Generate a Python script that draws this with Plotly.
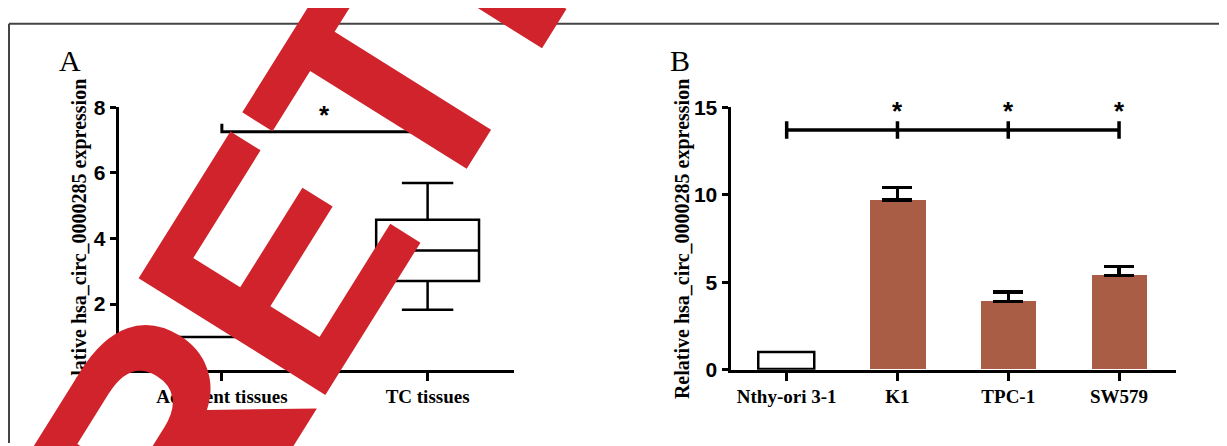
import plotly.graph_objects as go

# ---------------- data ----------------
groups_a = ["Adjacent tissues", "TC tissues"]
a_lower = [1.0, 1.83]
a_q1 = [1.0, 2.70]
a_median = [1.0, 3.63]
a_q3 = [1.0, 4.57]
a_upper = [1.0, 5.69]

cells_b = ["Nthy-ori 3-1", "K1", "TPC-1", "SW579"]
b_mean = [1.0, 9.71, 3.89, 5.39]
b_err = [0.0, 0.70, 0.56, 0.52]

a_yticks = [0, 2, 4, 6, 8]
b_yticks = [0, 5, 10, 15]

W, H = 1227, 446
OFF = 8  # page body margin compensation
BROWN = "#A95D45"
RED = "#D0232B"
TITLE = "Relative hsa_circ_0000285 expression"


def px(x):
    return (x - OFF) / W


def py(y):
    return 1 - (y - OFF) / H


fig = go.Figure()

# ---------------- panel A: box plot ----------------
for i, g in enumerate(groups_a):
    fig.add_trace(go.Box(
        x=[i], q1=[a_q1[i]], median=[a_median[i]], q3=[a_q3[i]],
        lowerfence=[a_lower[i]], upperfence=[a_upper[i]],
        width=0.5, whiskerwidth=0.5, boxpoints=False,
        fillcolor="white", line=dict(color="black", width=2.5),
        xaxis="x", yaxis="y", showlegend=False, hoverinfo="skip"))

# significance bracket A
fig.add_trace(go.Scatter(
    x=[0, 0, 1, 1], y=[7.5, 7.25, 7.25, 7.5], mode="lines",
    line=dict(color="black", width=3), xaxis="x", yaxis="y",
    showlegend=False, hoverinfo="skip"))

# ---------------- panel B: bar chart ----------------
fig.add_trace(go.Bar(
    x=[0], y=[b_mean[0]], width=0.5,
    marker=dict(color="white", line=dict(color="black", width=2.5)),
    xaxis="x2", yaxis="y2", showlegend=False, hoverinfo="skip"))
fig.add_trace(go.Bar(
    x=list(range(1, len(cells_b))), y=b_mean[1:], width=0.5,
    marker=dict(color=BROWN, line=dict(width=0)),
    error_y=dict(type="data", array=b_err[1:], arrayminus=[0] * (len(cells_b) - 1),
                 symmetric=False, color="black", thickness=3.5, width=15),
    xaxis="x2", yaxis="y2", showlegend=False, hoverinfo="skip"))

# significance bracket B
bx, by = [0, 3, None], [13.7, 13.7, None]
for i in range(len(cells_b)):
    bx += [i, i, None]
    by += [13.2, 14.2, None]
fig.add_trace(go.Scatter(
    x=bx, y=by, mode="lines", line=dict(color="black", width=3.5),
    xaxis="x2", yaxis="y2", showlegend=False, hoverinfo="skip", connectgaps=False))

# ---------------- axes ----------------
ydom = [py(376.7), py(100)]
common = dict(showline=True, linecolor="black", linewidth=3, ticks="outside",
              tickcolor="black", tickwidth=3, showgrid=False, zeroline=False)
xfont = dict(family="Liberation Serif", size=19, color="black", weight="bold")
yfont = dict(family="Liberation Sans", size=21, color="black", weight="bold")

fig.update_layout(
    width=W, height=H, margin=dict(l=0, r=0, t=0, b=0),
    paper_bgcolor="white", plot_bgcolor="white", showlegend=False,
    bargap=0,
    xaxis=dict(domain=[px(118.6), px(514)], range=[-0.502, 1.42], anchor="y",
               tickvals=[0, 1], ticktext=groups_a, ticklen=8, tickfont=xfont, **common),
    yaxis=dict(domain=ydom, range=[0, 8], anchor="x", tickvals=a_yticks,
               ticklen=6, tickfont=yfont, **common),
    xaxis2=dict(domain=[px(730.5), px(1176)], range=[-0.507, 3.514], anchor="y2",
                tickvals=list(range(len(cells_b))), ticktext=cells_b, ticklen=8,
                tickfont=xfont, **common),
    yaxis2=dict(domain=ydom, range=[0, 15], anchor="x2", tickvals=b_yticks,
                ticklen=6, tickfont=yfont, **common),
)

# ---------------- texts ----------------
ann = []
star_font = dict(family="Liberation Sans", size=26, color="black", weight="bold")
ann.append(dict(x=0.5, y=7.25, xref="x", yref="y", text="*", showarrow=False,
                xanchor="center", yanchor="bottom", font=star_font))
for i in range(1, len(cells_b)):
    ann.append(dict(x=i, y=13.7, xref="x2", yref="y2", text="*", showarrow=False,
                    xanchor="center", yanchor="bottom", yshift=2, font=star_font))

label_font = dict(family="Liberation Serif", size=30, color="black")
ann.append(dict(x=px(70), y=py(51), xref="paper", yref="paper", text="A",
                showarrow=False, xanchor="center", yanchor="middle", font=label_font))
ann.append(dict(x=px(680), y=py(51), xref="paper", yref="paper", text="B",
                showarrow=False, xanchor="center", yanchor="middle", font=label_font))

title_font = dict(family="Liberation Serif", size=20, color="black", weight="bold")
for xc in (79, 682):
    ann.append(dict(x=px(xc), y=py(239), xref="paper", yref="paper", text=TITLE,
                    textangle=-90, showarrow=False, xanchor="center", yanchor="middle",
                    font=title_font))

# watermark (slightly tighter kerning after the first letter)
ann.append(dict(x=px(623), y=py(-320), xref="paper", yref="paper",
                text='<span style="letter-spacing:-12px">R</span>ETRACTED',
                textangle=-58, showarrow=False, xanchor="center", yanchor="middle",
                font=dict(family="Liberation Sans", size=320, color=RED, weight="bold")))

fig.update_layout(annotations=ann)

# frame
fig.update_layout(shapes=[
    dict(type="line", xref="paper", yref="paper", x0=px(9), x1=1, y0=py(12), y1=py(12),
         line=dict(color="#444444", width=2)),
    dict(type="line", xref="paper", yref="paper", x0=px(9), x1=px(9), y0=0, y1=py(12),
         line=dict(color="#444444", width=2)),
])

fig.write_html("out.html")
